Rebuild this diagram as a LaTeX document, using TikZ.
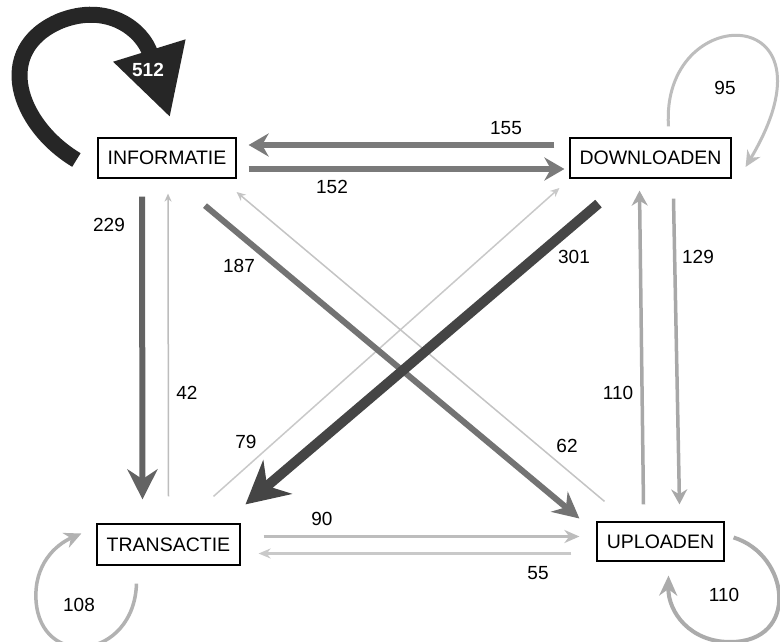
\documentclass[tikz,border=0pt]{standalone}
\usepackage{fontspec}
\setmainfont{Liberation Sans}
\usetikzlibrary{arrows.meta,calc}
\tikzset{
  box/.style={draw=black,line width=1.2pt,fill=white,minimum height=40pt,inner sep=0pt,font=\fontsize{19.5}{22}\selectfont},
  lbl/.style={font=\fontsize{19}{22}\selectfont,inner sep=0pt},
  edge/.style n args={4}{draw=#1,line width=#2,-{Stealth[length=#3,width=#4]}},
}
\begin{document}
\begin{tikzpicture}[x=1pt,y=-1pt]
\clip (0,0) rectangle (780,642);
\fill[white] (0,0) rectangle (780,642);
% nodes
\node[box,minimum width=138pt,minimum height=40pt] (info) at (167,158) {INFORMATIE};
\node[box,minimum width=161pt,minimum height=40pt] (down) at (650.5,158) {DOWNLOADEN};
\node[box,minimum width=143pt,minimum height=41pt] (trans) at (168.5,544.5) {TRANSACTIE};
\node[box,minimum width=127pt,minimum height=39pt] (up) at (660.5,541.5) {UPLOADEN};

% thin diagonals
\draw[edge={black!21}{1.5pt}{9pt}{8pt}] ($(trans.north)+(45,-27)$) -- ($(down.west)+(-10,30)$);
\draw[edge={black!23}{1.5pt}{9pt}{8pt}] ($(up.north)+(-56,-20)$) -- ($(info.east)+(0,34)$);
% 187 and 301
\draw[edge={black!55}{6pt}{26pt}{26pt}] ($(info.south)+(38,27)$) -- ($(up.west)+(-17,-23)$);
\draw[edge={black!73}{10pt}{42pt}{44pt}] ($(down.south)+(-52,25)$) -- ($(trans.north)+(77,-19)$);
% vertical left
\draw[edge={black!61}{6pt}{30pt}{30pt}] ($(info.south)+(-25,18)$) -- ($(trans.north)+(-26,-24)$);
\draw[edge={black!26}{1.5pt}{8pt}{7pt}] ($(trans.north)+(0,-27)$) -- ($(info.south)+(1,15)$);
% horizontal top
\draw[edge={black!52}{5.5pt}{20pt}{23pt}] ($(down.west)+(-15,-13)$) -- ($(info.east)+(12,-13)$);
\draw[edge={black!52}{5.5pt}{20pt}{23pt}] ($(info.east)+(12,11)$) -- ($(down.west)+(-5,11)$);
% vertical right
\draw[edge={black!34}{3.5pt}{15pt}{16pt}] ($(up.north)+(-17,-17)$) -- ($(down.south)+(-11,12)$);
\draw[edge={black!34}{3.5pt}{15pt}{16pt}] ($(down.south)+(23,20)$) -- ($(up.north)+(19,-17)$);
% horizontal bottom
\draw[edge={black!26}{3pt}{15pt}{13pt}] ($(trans.east)+(23,-8)$) -- ($(up.west)+(-17,-5)$);
\draw[edge={black!21}{2.5pt}{12pt}{10pt}] ($(up.west)+(-25,12)$) -- ($(trans.east)+(18,9)$);
% self loops
\draw[edge={black!26}{3pt}{16pt}{15pt}] ($(down.north)+(18,-11)$) .. controls (660,0) and (845,0) .. ($(down.east)+(14,9)$);
\draw[edge={black!30}{3.5pt}{17pt}{16pt}] ($(trans.south)+(-32,18)$) .. controls (134,660) and (40,670) .. (36,600) .. controls (34,565) and (55,545) .. ($(trans.west)+(-15,-11)$);
\draw[edge={black!33}{4pt}{20pt}{18pt}] ($(up.east)+(9,-4)$) .. controls (790,555) and (800,642) .. (730,642) .. controls (690,642) and (668,612) .. ($(up.south)+(8,14)$);
\draw[draw=black!85,line width=16pt,-{Triangle[length=70pt,width=71pt]}] ($(info.west)+(-21,2)$) .. controls (18,125) and (-8,50) .. (60,21) .. controls (108,2) and (143,30) .. ($(info.north)+(3,-20)$);

% labels
\node[lbl,text=white,font=\fontsize{19}{22}\selectfont\bfseries] (l512) at (148,70) {512};
\node[lbl] (l155) at (506,128) {155};
\node[lbl] (l152) at (332,187) {152};
\node[lbl] (l229) at (109,225) {229};
\node[lbl] (l42) at (187,393) {42};
\node[lbl] (l187) at (239,266) {187};
\node[lbl] (l79) at (246,442) {79};
\node[lbl] (l301) at (574,257) {301};
\node[lbl] (l129) at (698,257) {129};
\node[lbl] (l110a) at (618,393) {110};
\node[lbl] (l62) at (567,446) {62};
\node[lbl] (l90) at (322,519) {90};
\node[lbl] (l55) at (538,573) {55};
\node[lbl] (l108) at (79,605) {108};
\node[lbl] (l110b) at (724,595) {110};
\node[lbl] (l95) at (725,88) {95};
\end{tikzpicture}
\end{document}
